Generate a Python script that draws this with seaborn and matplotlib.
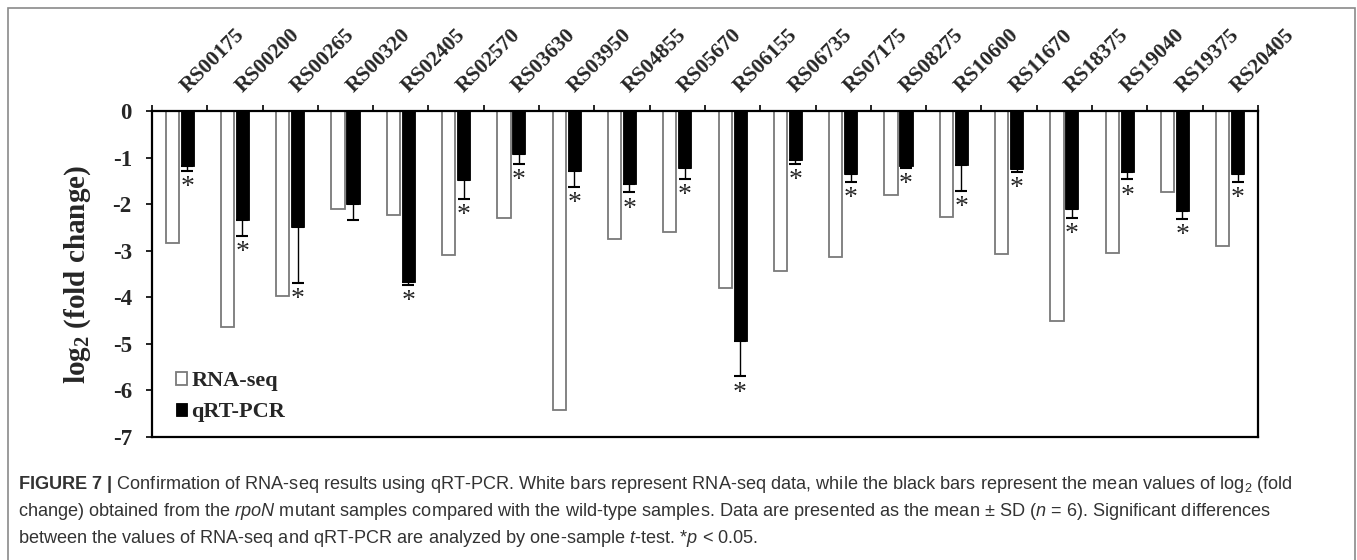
import numpy as np
import pandas as pd
import matplotlib
matplotlib.use("Agg")
import matplotlib.pyplot as plt
from matplotlib.patches import Rectangle
import seaborn as sns

# -------------------------------------
# Data
# -------------------------------------
genes = ["RS00175", "RS00200", "RS00265", "RS00320", "RS02405", "RS02570",
         "RS03630", "RS03950", "RS04855", "RS05670", "RS06155", "RS06735",
         "RS07175", "RS08275", "RS10600", "RS11670", "RS18375", "RS19040",
         "RS19375", "RS20405"]
rna_seq = [-2.83, -4.63, -3.98, -2.10, -2.23, -3.09, -2.29, -6.42, -2.74, -2.60,
           -3.79, -3.43, -3.14, -1.80, -2.27, -3.07, -4.50, -3.04, -1.73, -2.90]
qrt_pcr = [-1.19, -2.34, -2.48, -2.00, -3.67, -1.48, -0.93, -1.29, -1.57, -1.23,
           -4.93, -1.05, -1.36, -1.19, -1.15, -1.25, -2.10, -1.32, -2.14, -1.36]
qrt_sd = [0.09, 0.34, 1.22, 0.35, 0.06, 0.41, 0.21, 0.34, 0.18, 0.23,
          0.77, 0.08, 0.17, 0.04, 0.56, 0.06, 0.20, 0.15, 0.18, 0.16]
significant = [True, True, True, False, True, True, True, True, True, True,
               True, True, True, True, True, True, True, True, True, True]
methods = ["RNA-seq", "qRT-PCR"]
y_ticks = [-7, -6, -5, -4, -3, -2, -1, 0]

caption_lines = [
    r"$\mathbf{FIGURE\ 7\ |}$ Confirmation of RNA-seq results using qRT-PCR. White bars represent "
    r"RNA-seq data, while the black bars represent the mean values of log$_2$ (fold",
    r"change) obtained from the $rpoN$ mutant samples compared with the wild-type samples. "
    r"Data are presented as the mean ± SD ($n$ = 6). Significant differences",
    r"between the values of RNA-seq and qRT-PCR are analyzed by one-sample $t$-test. *$p$ < 0.05.",
]

df = pd.DataFrame({
    "gene": genes * 2,
    "method": [methods[0]] * len(genes) + [methods[1]] * len(genes),
    "value": rna_seq + qrt_pcr,
})

# -------------------------------------
# Style
# -------------------------------------
sns.set_theme(style="white")
plt.rcParams["font.family"] = ["Liberation Serif", "DejaVu Serif"]
plt.rcParams["axes.unicode_minus"] = False
plt.rcParams["mathtext.fontset"] = "custom"
plt.rcParams["mathtext.rm"] = "Liberation Sans"
plt.rcParams["mathtext.it"] = "Liberation Sans:italic"
plt.rcParams["mathtext.bf"] = "Liberation Sans:bold"
plt.rcParams["mathtext.sf"] = "Liberation Serif:bold"

fig = plt.figure(figsize=(13.57, 5.6), dpi=100)
ax = fig.add_axes([0.112, 0.2196, 0.815, 0.5822])

sns.barplot(data=df, x="gene", y="value", hue="method", order=genes,
            hue_order=methods, palette={"RNA-seq": "white", "qRT-PCR": "black"},
            saturation=1, width=0.54, gap=0.12, errorbar=None, legend=False, ax=ax)

for p in ax.containers[0]:
    p.set_edgecolor("#7a7a7a")
    p.set_linewidth(1.3)
for p in ax.containers[1]:
    p.set_edgecolor("black")
    p.set_linewidth(0.6)

# one-sided error bars + significance stars on the qRT-PCR bars
xs = [p.get_x() + p.get_width() / 2 for p in ax.containers[1]]
ax.errorbar(xs, qrt_pcr, yerr=[qrt_sd, np.zeros(len(qrt_sd))], fmt="none",
            ecolor="black", elinewidth=1.0, capsize=4.5, capthick=1.5, zorder=0.5)
for x, m, s, sig in zip(xs, qrt_pcr, qrt_sd, significant):
    if sig:
        ax.annotate("*", (x, m - s), xytext=(0, -12), textcoords="offset points",
                    ha="center", va="center", fontsize=20, family="Liberation Serif")

# axes: x labels on top (slightly right of centre), ticks between categories
ax.set_xlim(-0.5, len(genes) - 0.5)
ax.set_ylim(-7, 0)
ax.xaxis.tick_top()
ax.set_xticks(np.arange(len(genes)) + 0.14)
ax.set_xticklabels(genes, rotation=45, ha="left", va="baseline",
                   rotation_mode="anchor", fontsize=15.5, fontweight="bold")
ax.set_xticks(np.arange(-0.5, len(genes), 1), minor=True)
ax.tick_params(axis="x", which="major", length=0, pad=13)
ax.tick_params(axis="x", which="minor", top=True, bottom=False, length=4.5,
               width=1.2, direction="out", color="black")
ax.set_yticks(y_ticks)
ax.set_yticklabels([str(v) for v in y_ticks], fontsize=16.5, fontweight="bold")
ax.tick_params(axis="y", left=True, length=4.5, width=1.2, direction="out",
               color="black", pad=10)
ax.set_xlabel("")
ax.set_ylabel(r"log$_\mathsf{2}$ (fold change)", fontsize=21, fontweight="bold")
ax.yaxis.set_label_coords(-0.0533, 0.5)
for side in ["top", "bottom", "left", "right"]:
    ax.spines[side].set_visible(True)
    ax.spines[side].set_color("black")
    ax.spines[side].set_linewidth(1.6)

ax.legend(ax.containers, methods, loc="lower left", bbox_to_anchor=(0.0217, 0.045),
          frameon=False, prop={"family": "Liberation Serif", "weight": "bold", "size": 16},
          handlelength=0.5, handleheight=0.5, handletextpad=0.2, labelspacing=0.5,
          borderpad=0, borderaxespad=0)

# caption and outer frame
for i, line in enumerate(caption_lines):
    fig.text(0.0133, 0.1268 - i * 0.0482, line, ha="left", va="baseline",
             fontsize=13.1, family="Liberation Sans", color="#333333")

fig.patches.append(Rectangle((0.0059, -0.05), 0.9926, 1.0357, fill=False,
                             edgecolor="#8a8a8a", linewidth=1.2,
                             transform=fig.transFigure, figure=fig))

fig.savefig("out.png", dpi=100)
